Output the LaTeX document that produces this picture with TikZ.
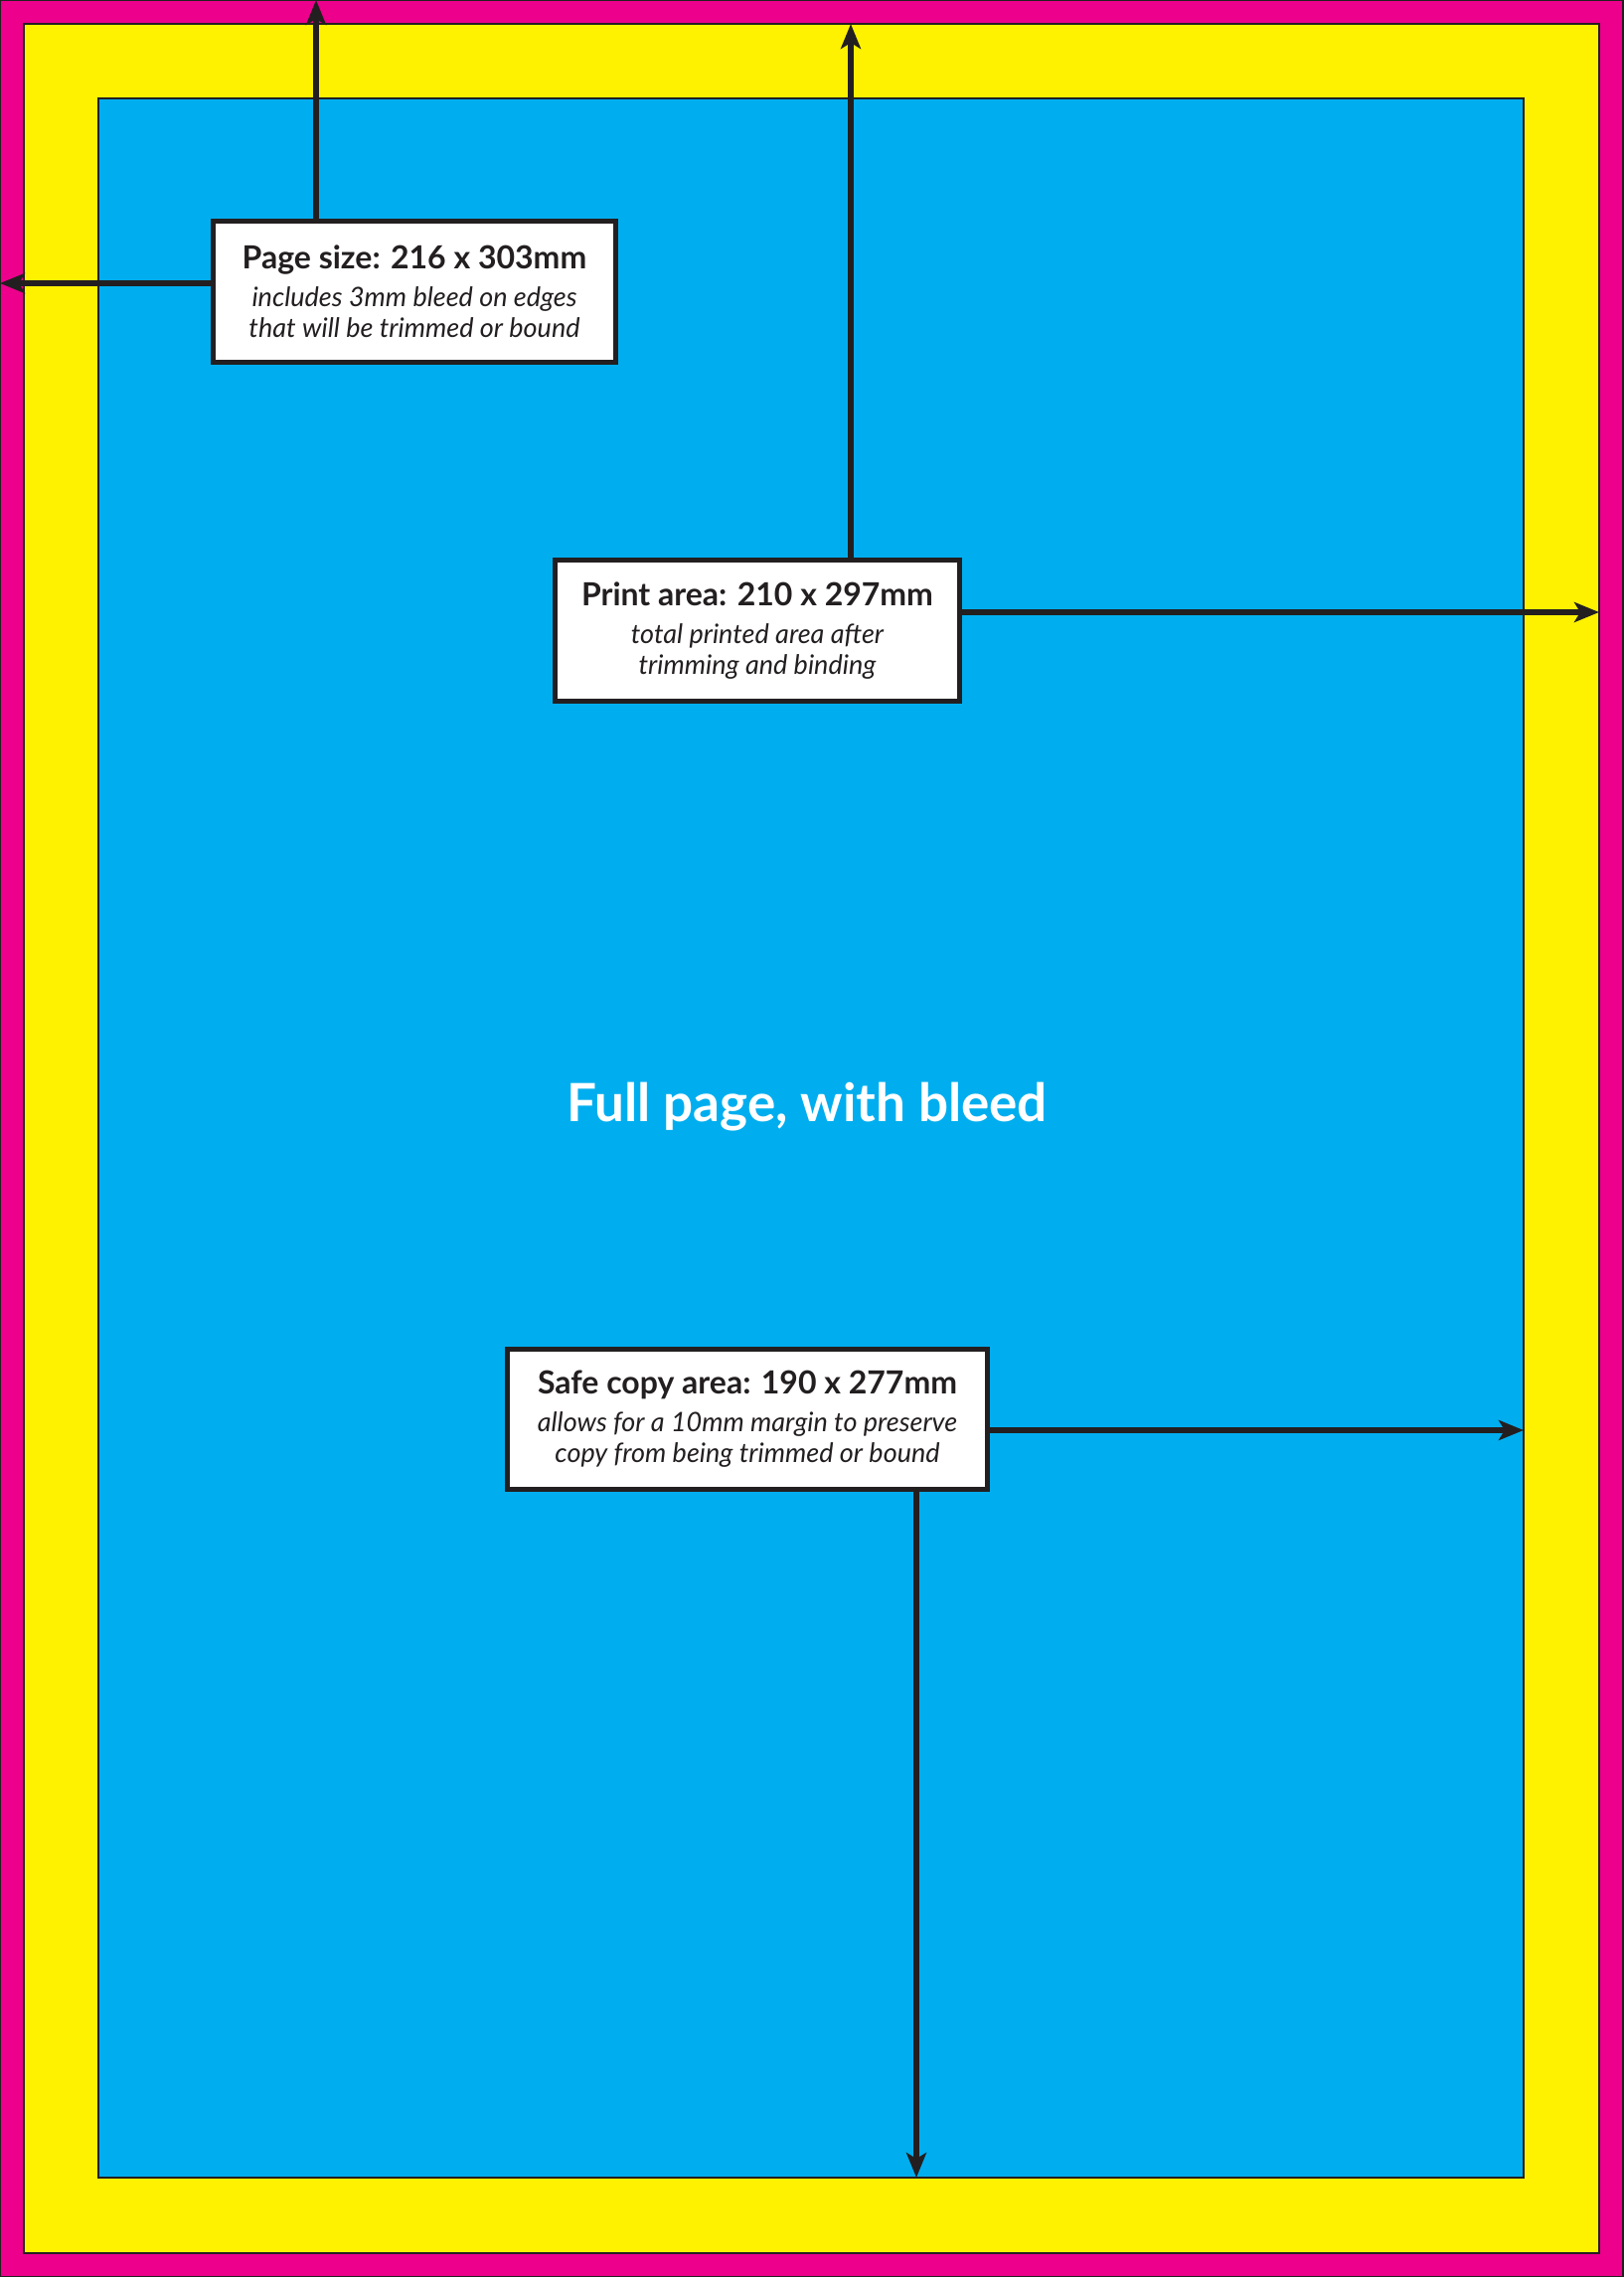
\documentclass[tikz,border=0pt]{standalone}
\usepackage{fontspec}
\setmainfont{Lato}
\usetikzlibrary{arrows.meta}
\definecolor{bleedpink}{HTML}{EC008C}
\definecolor{trimyellow}{HTML}{FFF200}
\definecolor{safecyan}{HTML}{00AEEF}
\definecolor{inkdark}{HTML}{231F20}
\begin{document}
\begin{tikzpicture}[
    x=1pt, y=-1pt,
    area/.style={draw=inkdark, line width=2.5pt, inner sep=0pt, outer sep=0pt},
    infobox/.style={draw=inkdark, fill=white, line width=5pt, inner sep=0pt, outer sep=0pt,
                    align=center, text=inkdark, font=\fontsize{27}{31}\selectfont\itshape},
    dim/.style={-{Stealth[length=25pt, width=20pt, inset=6pt]}, line width=5.5pt, draw=inkdark},
  ]
    \useasboundingbox (0,0) rectangle (1633,2291);

    % nested page areas
    \node[area, fill=bleedpink, minimum width=1633pt, minimum height=2291pt]  (bleed) at (816.5,1145.5) {};
    \node[area, fill=trimyellow, minimum width=1585pt, minimum height=2243pt] (trim)  at (816.5,1145.5) {};
    \node[area, fill=safecyan, minimum width=1434pt, minimum height=2092pt]   (safe)  at (816,1145) {};

    \node[font=\fontsize{53}{60}\selectfont\bfseries, text=white] (full) at (812,1114) {Full page, with bleed};

    % labels
    \node[infobox, minimum width=405pt, minimum height=142pt] (pagebox) at (417,293.5)
      {{\fontsize{32}{36}\selectfont\bfseries\upshape Page size: 216 x 303mm}\\[7pt]
       includes 3mm bleed on edges\\ that will be trimmed or bound};
    \node[infobox, minimum width=407pt, minimum height=142pt] (printbox) at (762,634.5)
      {{\fontsize{32}{36}\selectfont\bfseries\upshape Print area: 210 x 297mm}\\[7pt]
       total printed area after\\ trimming and binding};
    \node[infobox, minimum width=483pt, minimum height=141pt] (safebox) at (752,1428)
      {{\fontsize{32}{36}\selectfont\bfseries\upshape Safe copy area: 190 x 277mm}\\[7pt]
       allows for a 10mm margin to preserve\\ copy from being trimmed or bound};

    % dimension arrows
    \draw[dim] ([xshift=-99pt]pagebox.north) -- ([xshift=-99pt]pagebox.north |- bleed.north);
    \draw[dim] ([yshift=8.5pt]pagebox.west) -- ([yshift=8.5pt]pagebox.west -| bleed.west);
    \draw[dim] ([xshift=94pt]printbox.north) -- ([xshift=94pt]printbox.north |- trim.north);
    \draw[dim] ([yshift=18.5pt]printbox.east) -- ([yshift=18.5pt]printbox.east -| trim.east);
    \draw[dim] ([yshift=-11pt]safebox.east) -- ([yshift=-11pt]safebox.east -| safe.east);
    \draw[dim] ([xshift=170pt]safebox.south) -- ([xshift=170pt]safebox.south |- safe.south);
  \end{tikzpicture}
\end{document}
